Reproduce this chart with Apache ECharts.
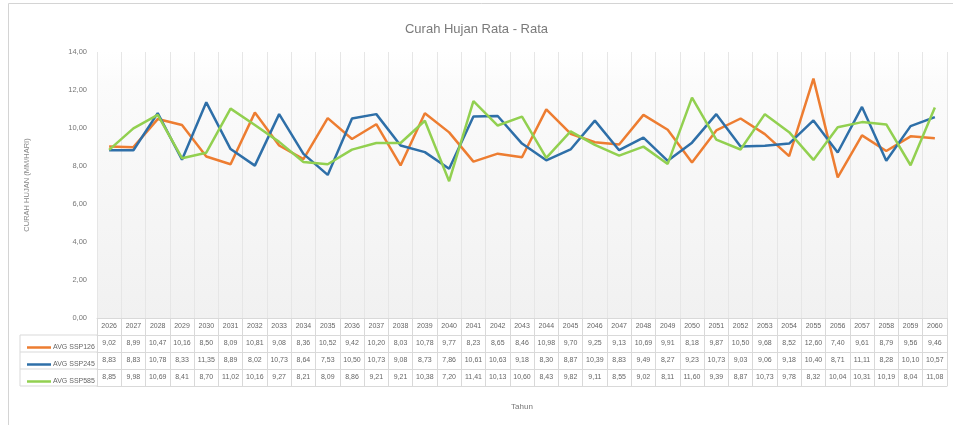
<!DOCTYPE html>
<html>
<head>
<meta charset="utf-8">
<script src="https://cdn.jsdelivr.net/npm/echarts@6/dist/echarts.min.js"></script>
<style>
  html, body { margin: 0; padding: 0; background: #ffffff; }
  #chart { width: 953px; height: 425px; }
</style>
</head>
<body>
<div id="chart"></div>
<script>
// Tahun (kategori sumbu X)
const years = ['2026','2027','2028','2029','2030','2031','2032','2033','2034','2035',
  '2036','2037','2038','2039','2040','2041','2042','2043','2044','2045',
  '2046','2047','2048','2049','2050','2051','2052','2053','2054','2055',
  '2056','2057','2058','2059','2060'];

// Curah hujan rata-rata per skenario
const ssp126 = [9.02, 8.99, 10.47, 10.16, 8.50, 8.09, 10.81, 9.08, 8.36, 10.52,
  9.42, 10.20, 8.03, 10.78, 9.77, 8.23, 8.65, 8.46, 10.98, 9.70,
  9.25, 9.13, 10.69, 9.91, 8.18, 9.87, 10.50, 9.68, 8.52, 12.60,
  7.40, 9.61, 8.79, 9.56, 9.46];
const ssp245 = [8.83, 8.83, 10.78, 8.33, 11.35, 8.89, 8.02, 10.73, 8.64, 7.53,
  10.50, 10.73, 9.08, 8.73, 7.86, 10.61, 10.63, 9.18, 8.30, 8.87,
  10.39, 8.83, 9.49, 8.27, 9.23, 10.73, 9.03, 9.06, 9.18, 10.40,
  8.71, 11.11, 8.28, 10.10, 10.57];
const ssp585 = [8.85, 9.98, 10.69, 8.41, 8.70, 11.02, 10.16, 9.27, 8.21, 8.09,
  8.86, 9.21, 9.21, 10.38, 7.20, 11.41, 10.13, 10.60, 8.43, 9.82,
  9.11, 8.55, 9.02, 8.11, 11.60, 9.39, 8.87, 10.73, 9.78, 8.32,
  10.04, 10.31, 10.19, 8.04, 11.08];

const seriesNames = ['AVG SSP126', 'AVG SSP245', 'AVG SSP585'];
const seriesColors = ['#ED7D31', '#2E6FA8', '#92D050'];
const seriesValues = [ssp126, ssp245, ssp585];

// Sumbu Y
const yMin = 0, yMax = 14, yStep = 2;

const FONT = "'Liberation Sans Narrow', 'Liberation Sans', sans-serif";
const fmt = v => v.toFixed(2).replace('.', ',');

const gridLeft = 97, gridRight = 6, gridTop = 52, gridBottom = 107;
const rowH = 17;
const tableLine = '#d9d9d9';

// Baris tabel data: satu sumbu kategori per baris, garis selnya dari tick sumbu
function tableAxis(data, offset, showLabel) {
  return {
    type: 'category',
    gridIndex: 0,
    position: 'bottom',
    offset: offset,
    data: data,
    boundaryGap: true,
    axisLine: { show: true, lineStyle: { color: tableLine, width: 1 } },
    axisTick: { show: showLabel, interval: 0, length: rowH, lineStyle: { color: tableLine } },
    axisLabel: {
      show: showLabel, interval: 0, fontSize: 7, color: '#666', margin: 5, fontFamily: FONT
    },
    splitLine: { show: false }
  };
}

const xAxes = [
  Object.assign(tableAxis(years, 0, true), {
    name: 'Tahun',
    nameLocation: 'middle',
    nameGap: 85,
    nameTextStyle: { fontSize: 8, color: '#777', fontFamily: FONT },
    splitLine: { show: true, interval: 0, lineStyle: { color: '#e6e6e6', width: 1 } }
  }),
  tableAxis(ssp126.map(fmt), rowH, true),
  tableAxis(ssp245.map(fmt), rowH * 2, true),
  tableAxis(ssp585.map(fmt), rowH * 3, true),
  tableAxis(years, rowH * 4, false)
];

// Kunci legenda di kolom kiri tabel
const plotBottomY = 425 - gridBottom;
const legends = seriesNames.map((name, i) => ({
  data: [name],
  orient: 'horizontal',
  left: 22,
  top: plotBottomY + rowH * (i + 1) + 4,
  icon: 'rect',
  itemWidth: 24,
  itemHeight: 2.5,
  itemGap: 0,
  selectedMode: false,
  textStyle: { fontSize: 7, color: '#666', fontFamily: FONT, padding: [0, 0, 0, -3] }
}));

// Garis kolom kiri tabel (area legenda)
const leftCells = [];
for (let r = 1; r <= 4; r++) {
  leftCells.push({
    type: 'line',
    shape: { x1: 20, y1: plotBottomY + rowH * r, x2: gridLeft, y2: plotBottomY + rowH * r },
    style: { stroke: tableLine, lineWidth: 1 }
  });
}
leftCells.push({
  type: 'line',
  shape: { x1: 20, y1: plotBottomY + rowH, x2: 20, y2: plotBottomY + rowH * 4 },
  style: { stroke: tableLine, lineWidth: 1 }
});

const chart = echarts.init(document.getElementById('chart'), null, { renderer: 'canvas' });

chart.setOption({
  backgroundColor: '#ffffff',
  animation: false,
  textStyle: { fontFamily: FONT },
  title: {
    text: 'Curah Hujan Rata - Rata',
    left: 'center',
    top: 18,
    textStyle: { fontSize: 13, fontWeight: 'normal', color: '#7a7a7a', fontFamily: FONT }
  },
  legend: legends,
  graphic: [
    {
      type: 'rect',
      shape: { x: 8.5, y: 3.5, width: 950, height: 440 },
      style: { fill: 'none', stroke: '#d4d4d4', lineWidth: 1 },
      silent: true
    }
  ].concat(leftCells),
  grid: {
    left: gridLeft, right: gridRight, top: gridTop, bottom: gridBottom,
    show: true,
    borderWidth: 0,
    backgroundColor: {
      type: 'linear', x: 0, y: 0, x2: 0, y2: 1,
      colorStops: [
        { offset: 0, color: '#ffffff' },
        { offset: 0.12, color: '#fbfbfb' },
        { offset: 1, color: '#f1f1f1' }
      ]
    }
  },
  xAxis: xAxes,
  yAxis: {
    type: 'value',
    min: yMin, max: yMax, interval: yStep,
    name: 'CURAH HUJAN (MM/HARI)',
    nameLocation: 'middle',
    nameGap: 66,
    nameTextStyle: { fontSize: 7.5, color: '#888', fontFamily: FONT },
    axisLine: { show: false },
    axisTick: { show: false },
    axisLabel: { fontSize: 7.5, color: '#777', margin: 10, fontFamily: FONT, formatter: v => fmt(v) },
    splitLine: { show: false }
  },
  series: seriesNames.map((name, i) => ({
    name: name,
    type: 'line',
    xAxisIndex: 0,
    data: seriesValues[i],
    symbol: 'none',
    smooth: false,
    lineStyle: { color: seriesColors[i], width: 2.5 },
    itemStyle: { color: seriesColors[i] },
    z: 3 + i
  }))
});
</script>
</body>
</html>
